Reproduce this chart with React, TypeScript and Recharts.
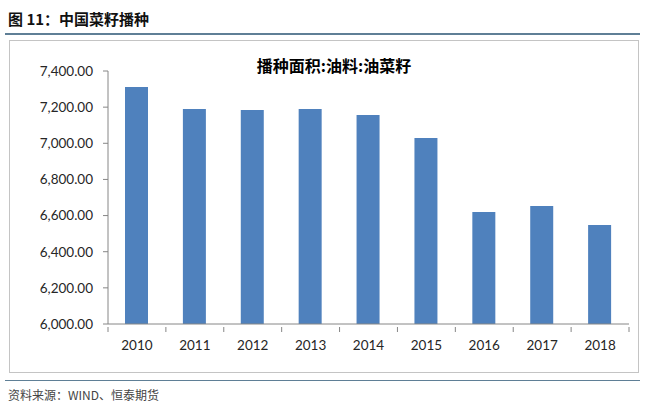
import React from 'react';
import { BarChart, Bar, XAxis, YAxis } from 'recharts';

const years = ['2010', '2011', '2012', '2013', '2014', '2015', '2016', '2017', '2018'];
const area = [7311, 7190, 7184, 7190, 7157, 7029, 6620, 6653, 6548];
const yTicks = [6000, 6200, 6400, 6600, 6800, 7000, 7200, 7400];

const data = years.map((year, i) => ({ year, value: area[i] }));

const PLOT_W = 521;
const HALF_BAND = PLOT_W / years.length / 2;

const fmt = (v: number) =>
  v.toLocaleString('en-US', { minimumFractionDigits: 2, maximumFractionDigits: 2 });

const XTick = (props: any) => {
  const { x, y, payload, index } = props;
  return (
    <g>
      <line x1={x - HALF_BAND} x2={x - HALF_BAND} y1={y} y2={y - 5} stroke="#868686" />
      {index === years.length - 1 && (
        <line x1={x + HALF_BAND} x2={x + HALF_BAND} y1={y} y2={y - 5} stroke="#868686" />
      )}
      <text x={x} y={y + 18} textAnchor="middle" fontSize={13.5} fill="#262626" fontFamily="Lato, sans-serif">
        {payload.value}
      </text>
    </g>
  );
};

export default function App() {
  return (
    <div style={{ position: 'absolute', left: 0, top: 0, width: 650, height: 412, background: '#fff', fontFamily: '"Noto Sans CJK SC", sans-serif' }}>
      <div style={{ position: 'absolute', left: 8, top: 8, fontSize: 15, fontWeight: 700, color: '#111' }}>
        图 11：中国菜籽播种
      </div>
      <div style={{ position: 'absolute', left: 5, top: 33, width: 635, height: 2, background: '#5f7f96' }} />
      <div style={{ position: 'absolute', left: 9, top: 40, width: 628, height: 331, border: '1px solid #c4c4c4' }}>
        <div style={{ position: 'absolute', left: 0, width: 628, top: 12, textAlign: 'center', fontSize: 16, fontWeight: 700, color: '#000', paddingLeft: 10 }}>
          播种面积:油料:油菜籽
        </div>
        <BarChart
          width={628}
          height={331}
          data={data}
          margin={{ top: 30, right: 9, bottom: 18, left: 0 }}
          barSize={23}
        >
          <XAxis
            dataKey="year"
            height={30}
            stroke="#868686"
            tickLine={false}
            tick={<XTick />}
            interval={0}
          />
          <YAxis
            width={98}
            domain={[6000, 7400]}
            ticks={yTicks}
            stroke="#868686"
            tickSize={5}
            tickFormatter={fmt}
            tick={{ fontSize: 13.5, fill: '#262626', fontFamily: 'Lato, sans-serif', dx: -8 }}
            interval={0}
          />
          <Bar dataKey="value" fill="#4f81bd" isAnimationActive={false} />
        </BarChart>
      </div>
      <div style={{ position: 'absolute', left: 5, top: 380, width: 635, height: 1, background: '#5f7f96' }} />
      <div style={{ position: 'absolute', left: 8, top: 386, fontSize: 12, color: '#444', fontFamily: '"Noto Sans CJK SC", serif' }}>
        资料来源：WIND、恒泰期货
      </div>
    </div>
  );
}
